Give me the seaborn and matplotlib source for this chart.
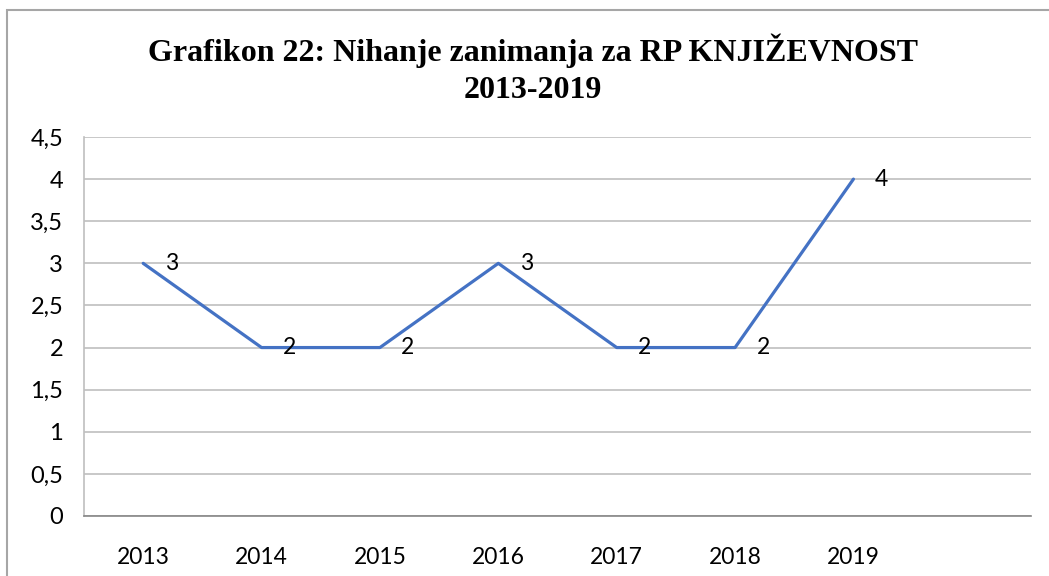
import numpy as np
import pandas as pd
import matplotlib
matplotlib.use("Agg")
import matplotlib.pyplot as plt
from matplotlib.patches import Rectangle
from matplotlib.ticker import FuncFormatter, MultipleLocator
import seaborn as sns

# podaci
godine = [2013, 2014, 2015, 2016, 2017, 2018, 2019]
broj = [3, 2, 2, 3, 2, 2, 4]
naslov = "Grafikon 22: Nihanje zanimanja za RP KNJIŽEVNOST\n2013-2019"

df = pd.DataFrame({"Godina": godine, "Broj": broj})

sns.set_style("white")
plt.rcParams["font.family"] = ["Lato", "DejaVu Sans"]
plt.rcParams["text.color"] = "black"
plt.rcParams["xtick.labelcolor"] = "black"
plt.rcParams["ytick.labelcolor"] = "black"

fig = plt.figure(figsize=(10.49, 5.76), dpi=100)
ax = fig.add_axes([84 / 1049, 1 - 516 / 576, (1031 - 84) / 1049, (516 - 137) / 576])

sns.lineplot(data=df, x="Godina", y="Broj", color="#4472C4", linewidth=2.3, ax=ax)

# oznake podataka desno od tacaka
for g, b in zip(godine, broj):
    ax.annotate(str(b), (g, b), xytext=(28, 0), textcoords="offset pixels",
                ha="center", va="center", fontsize=16.5, color="black")

grid_boja = "#BFBFBF"
ax.set_xlim(2012.5, 2020.5)
ax.set_ylim(0, 4.5)
ax.yaxis.set_major_locator(MultipleLocator(0.5))
ax.yaxis.set_major_formatter(FuncFormatter(lambda v, p: f"{v:g}".replace(".", ",")))
ax.grid(axis="y", color=grid_boja, linewidth=1.2)
ax.set_axisbelow(True)

ax.set_xticks(godine)
ax.set_xticklabels([str(g) for g in godine])
ax.set_xticks(np.arange(2012.5, 2021, 1.0), minor=True)
ax.tick_params(axis="x", which="major", length=0, pad=22, labelsize=16.5)
ax.tick_params(axis="x", which="minor", length=8, width=1.2, color="#868686", direction="out")
ax.tick_params(axis="y", length=9, width=1.2, color=grid_boja, pad=6, labelsize=17)

for s in ["top", "right"]:
    ax.spines[s].set_visible(False)
ax.spines["left"].set_color(grid_boja)
ax.spines["bottom"].set_color("#868686")
ax.spines["left"].set_linewidth(1.2)
ax.spines["bottom"].set_linewidth(1.2)
ax.set_xlabel("")
ax.set_ylabel("")

fig.text(533 / 1049, 1 - 69 / 576, naslov, ha="center", va="center",
         family=["Liberation Serif", "DejaVu Serif"], fontweight="bold",
         fontsize=23, linespacing=1.35, color="black")

# okvir grafikona
okvir = Rectangle((7 / 1049, -0.05), 1.1, 1.05 - 10 / 576, transform=fig.transFigure,
                  fill=False, edgecolor="#A6A6A6", linewidth=1.5, clip_on=False)
fig.patches.append(okvir)

fig.savefig("out.png", dpi=100)
